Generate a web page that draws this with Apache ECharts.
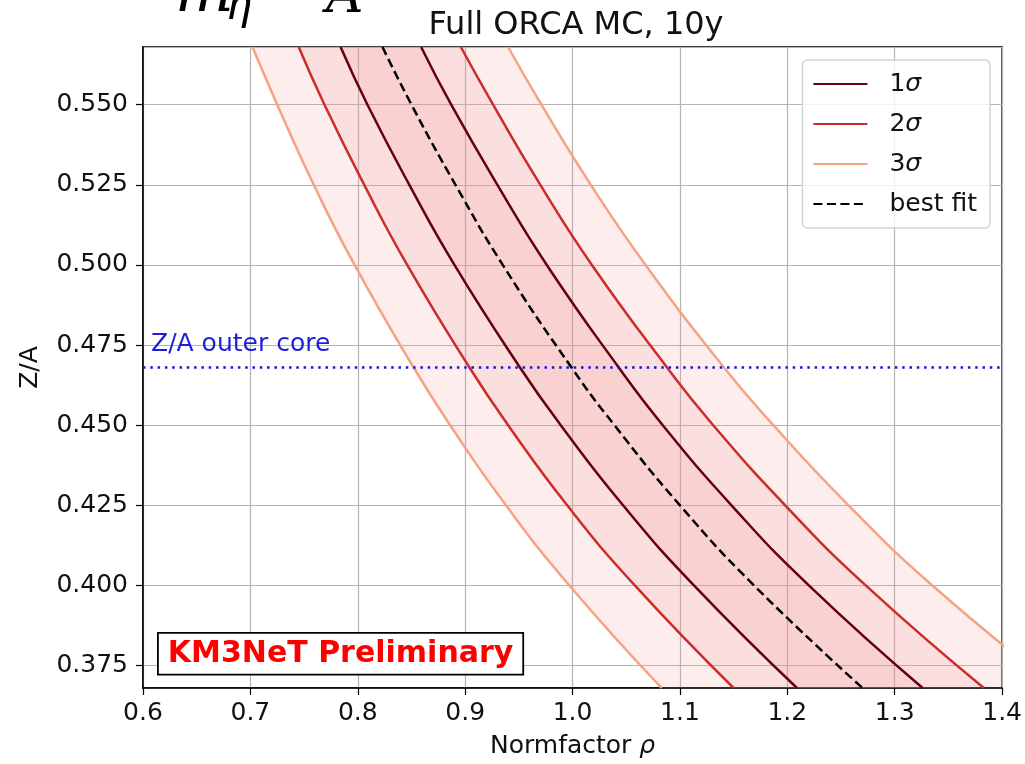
<!DOCTYPE html>
<html>
<head>
<meta charset="utf-8">
<script src="https://cdn.jsdelivr.net/npm/echarts@6/dist/echarts.min.js"></script>
<style>
  html, body { margin: 0; padding: 0; background: #fff; }
  #chart { width: 1025px; height: 764px; }
</style>
</head>
<body>
<div id="chart"></div>
<script>
const FONT = '"DejaVu Sans", sans-serif';

const zaLevels = [0.568, 0.550, 0.525, 0.500, 0.468, 0.450, 0.425, 0.400, 0.368];

// Normfactor rho of each contour at those levels
const rho3Left = [0.702, 0.725, 0.759, 0.797, 0.852, 0.886, 0.938, 0.997, 1.083];
const rho2Left = [0.745, 0.769, 0.806, 0.846, 0.904, 0.940, 0.995, 1.058, 1.150];
const rho1Left = [0.784, 0.809, 0.848, 0.890, 0.951, 0.989, 1.047, 1.113, 1.209];
const rhoBest = [0.823, 0.850, 0.891, 0.935, 0.999, 1.039, 1.100, 1.169, 1.270];
const rho1Right = [0.859, 0.887, 0.930, 0.976, 1.043, 1.084, 1.148, 1.220, 1.326];
const rho2Right = [0.896, 0.926, 0.970, 1.018, 1.088, 1.131, 1.198, 1.273, 1.383];
const rho3Right = [0.940, 0.971, 1.017, 1.068, 1.141, 1.187, 1.257, 1.335, 1.451];

const outerCoreZA = 0.468;
const legendNames = ['1σ', '2σ', '3σ', 'best fit'];

const colors = {
  '1σ': '#67000d',
  '2σ': '#cb2d2a',
  '3σ': '#f6a283',
};

const SMOOTH = 0.5;
const toPoints = (xs) => xs.map((x, i) => [x, zaLevels[i]]);

// same bezier smoothing as the line series, sampled so the fills follow the drawn curves
const smoothPixels = (pts) => {
  const out = [pts[0]];
  let cp0 = pts[0];
  for (let i = 1; i < pts.length; i++) {
    const p = pts[i];
    const prev = pts[i - 1];
    let cp1 = p;
    let nextCp0 = p;
    if (i < pts.length - 1) {
      const next = pts[i + 1];
      const vx = next[0] - prev[0];
      const vy = next[1] - prev[1];
      const lp = Math.hypot(p[0] - prev[0], p[1] - prev[1]);
      const ln = Math.hypot(next[0] - p[0], next[1] - p[1]);
      const r = ln / (ln + lp);
      cp1 = [p[0] - vx * SMOOTH * (1 - r), p[1] - vy * SMOOTH * (1 - r)];
      nextCp0 = [p[0] + vx * SMOOTH * r, p[1] + vy * SMOOTH * r];
    }
    for (let s = 1; s <= 16; s++) {
      const t = s / 16;
      const a = (1 - t) ** 3, b = 3 * (1 - t) ** 2 * t, c = 3 * (1 - t) * t * t, d = t ** 3;
      out.push([
        a * prev[0] + b * cp0[0] + c * cp1[0] + d * p[0],
        a * prev[1] + b * cp0[1] + c * cp1[1] + d * p[1],
      ]);
    }
    cp0 = nextCp0;
  }
  return out;
};

const bandSeries = (left, right, fill) => ({
  type: 'custom',
  silent: true,
  z: 1,
  data: [[1, 0.5]],
  renderItem: (params, api) => {
    const l = smoothPixels(zaLevels.map((za, i) => api.coord([left[i], za])));
    const r = smoothPixels(zaLevels.map((za, i) => api.coord([right[i], za])));
    const cs = params.coordSys;
    return {
      type: 'polygon',
      shape: { points: l.concat(r.reverse()) },
      style: { fill },
      clipPath: { type: 'rect', shape: { x: cs.x, y: cs.y, width: cs.width, height: cs.height } },
    };
  },
});

const contour = (name, xs) => ({
  name,
  type: 'line',
  z: 3,
  symbol: 'none',
  showSymbol: false,
  smooth: SMOOTH,
  clip: true,
  lineStyle: { color: colors[name], width: 2.5 },
  itemStyle: { color: colors[name] },
  data: toPoints(xs),
});

const bandFill = 'rgba(246, 150, 150, 0.17)';

const series = [
  bandSeries(rho3Left, rho3Right, bandFill),
  bandSeries(rho2Left, rho2Right, bandFill),
  bandSeries(rho1Left, rho1Right, bandFill),
  contour('3σ', rho3Left),
  contour('3σ', rho3Right),
  contour('2σ', rho2Left),
  contour('2σ', rho2Right),
  contour('1σ', rho1Left),
  contour('1σ', rho1Right),
  {
    name: 'best fit',
    type: 'line',
    z: 4,
    symbol: 'none',
    showSymbol: false,
    smooth: SMOOTH,
    lineStyle: { color: '#000', width: 2.5, type: [9, 4.5] },
    itemStyle: { color: '#000' },
    data: toPoints(rhoBest),
  },
  {
    name: 'outer core',
    type: 'line',
    z: 4,
    symbol: 'circle',
    symbolSize: 0,
    showSymbol: true,
    silent: true,
    lineStyle: { color: '#1414e6', width: 2.4, type: [2.5, 4.8] },
    itemStyle: { color: '#1414e6' },
    data: [
      {
        value: [0.6, outerCoreZA],
        label: {
          show: true,
          position: 'top',
          align: 'left',
          distance: 11,
          offset: [8, 0],
          formatter: 'Z/A outer core',
          color: '#1e1ed8',
          fontSize: 25,
          fontFamily: FONT,
        },
      },
      [1.4, outerCoreZA],
    ],
  },
];

const chart = echarts.init(document.getElementById('chart'));
chart.setOption({
  animation: false,
  backgroundColor: '#fff',
  title: {
    text: 'Full ORCA MC, 10y',
    left: 571,
    top: 5,
    textAlign: 'center',
    textStyle: { fontFamily: FONT, fontSize: 32, fontWeight: 'normal', color: '#111' },
  },
  grid: {
    left: 143, right: 21, top: 47, bottom: 76,
    show: true, borderColor: '#000', borderWidth: 1.5, backgroundColor: 'transparent',
  },
  legend: {
    data: legendNames,
    orient: 'vertical',
    right: 35,
    top: 60,
    itemWidth: 54,
    itemHeight: 14,
    itemGap: 12,
    padding: [10, 13, 10, 10],
    backgroundColor: 'rgba(255,255,255,0.8)',
    borderColor: '#d4d4d4',
    borderWidth: 1.5,
    borderRadius: 5,
    itemStyle: { opacity: 0 },
    formatter: (name) => name.replace('σ', '{i|σ}'),
    textStyle: {
      fontFamily: FONT, fontSize: 25, color: '#111', lineHeight: 28, padding: [0, 0, 0, 17],
      rich: { i: { fontFamily: FONT, fontSize: 25, fontStyle: 'italic', color: '#111' } },
    },
  },
  xAxis: {
    type: 'value',
    min: 0.6,
    max: 1.4,
    interval: 0.1,
    name: 'Normfactor {i|ρ}',
    nameLocation: 'middle',
    nameGap: 46,
    nameTextStyle: {
      fontFamily: FONT, fontSize: 25, color: '#111',
      rich: { i: { fontFamily: FONT, fontSize: 25, fontStyle: 'italic', color: '#111' } },
    },
    axisLine: { show: true, lineStyle: { color: '#000', width: 1.5 } },
    axisTick: { show: true, length: 7, lineStyle: { color: '#000', width: 1.2 } },
    axisLabel: { fontFamily: FONT, fontSize: 25, color: '#111', margin: 13, formatter: (v) => v.toFixed(1) },
    splitLine: { show: true, lineStyle: { color: '#b4b4b4', width: 1.2 } },
  },
  yAxis: {
    type: 'value',
    min: 0.368,
    max: 0.568,
    minInterval: 0.025,
    maxInterval: 0.025,
    splitNumber: 8,
    name: 'Z/A',
    nameLocation: 'middle',
    nameGap: 100,
    nameTextStyle: { fontFamily: FONT, fontSize: 25, color: '#111' },
    axisLine: { show: true, lineStyle: { color: '#000', width: 1.5 } },
    axisTick: { show: true, length: 7, lineStyle: { color: '#000', width: 1.2 } },
    axisLabel: {
      fontFamily: FONT, fontSize: 25, color: '#111', margin: 15,
      showMinLabel: false, showMaxLabel: false,
      formatter: (v) => v.toFixed(3),
    },
    splitLine: { show: true, lineStyle: { color: '#b4b4b4', width: 1.2 } },
  },
  graphic: [
    // cut-off formula at the very top of the slide
    { type: 'text', x: 175, y: 26, style: { text: 'm', font: 'italic 62px "DejaVu Serif"', fill: '#000', verticalAlign: 'bottom' } },
    { type: 'text', x: 225, y: 30, style: { text: 'η', font: 'italic 44px "DejaVu Serif"', fill: '#000', verticalAlign: 'bottom' } },
    { type: 'text', x: 326, y: 24, style: { text: 'A', font: 'italic 52px "DejaVu Serif"', fill: '#000', verticalAlign: 'bottom' } },
    {
      type: 'text', left: 157, top: 632, z: 100,
      style: {
        text: 'KM3NeT Preliminary', fill: '#ff0000', font: 'bold 30px "DejaVu Sans"',
        backgroundColor: '#fff', borderColor: '#000', borderWidth: 1.8, padding: [5, 9, 5, 9],
      },
    },
  ],
  series,
});

window.addEventListener('resize', () => chart.resize());
</script>
</body>
</html>
